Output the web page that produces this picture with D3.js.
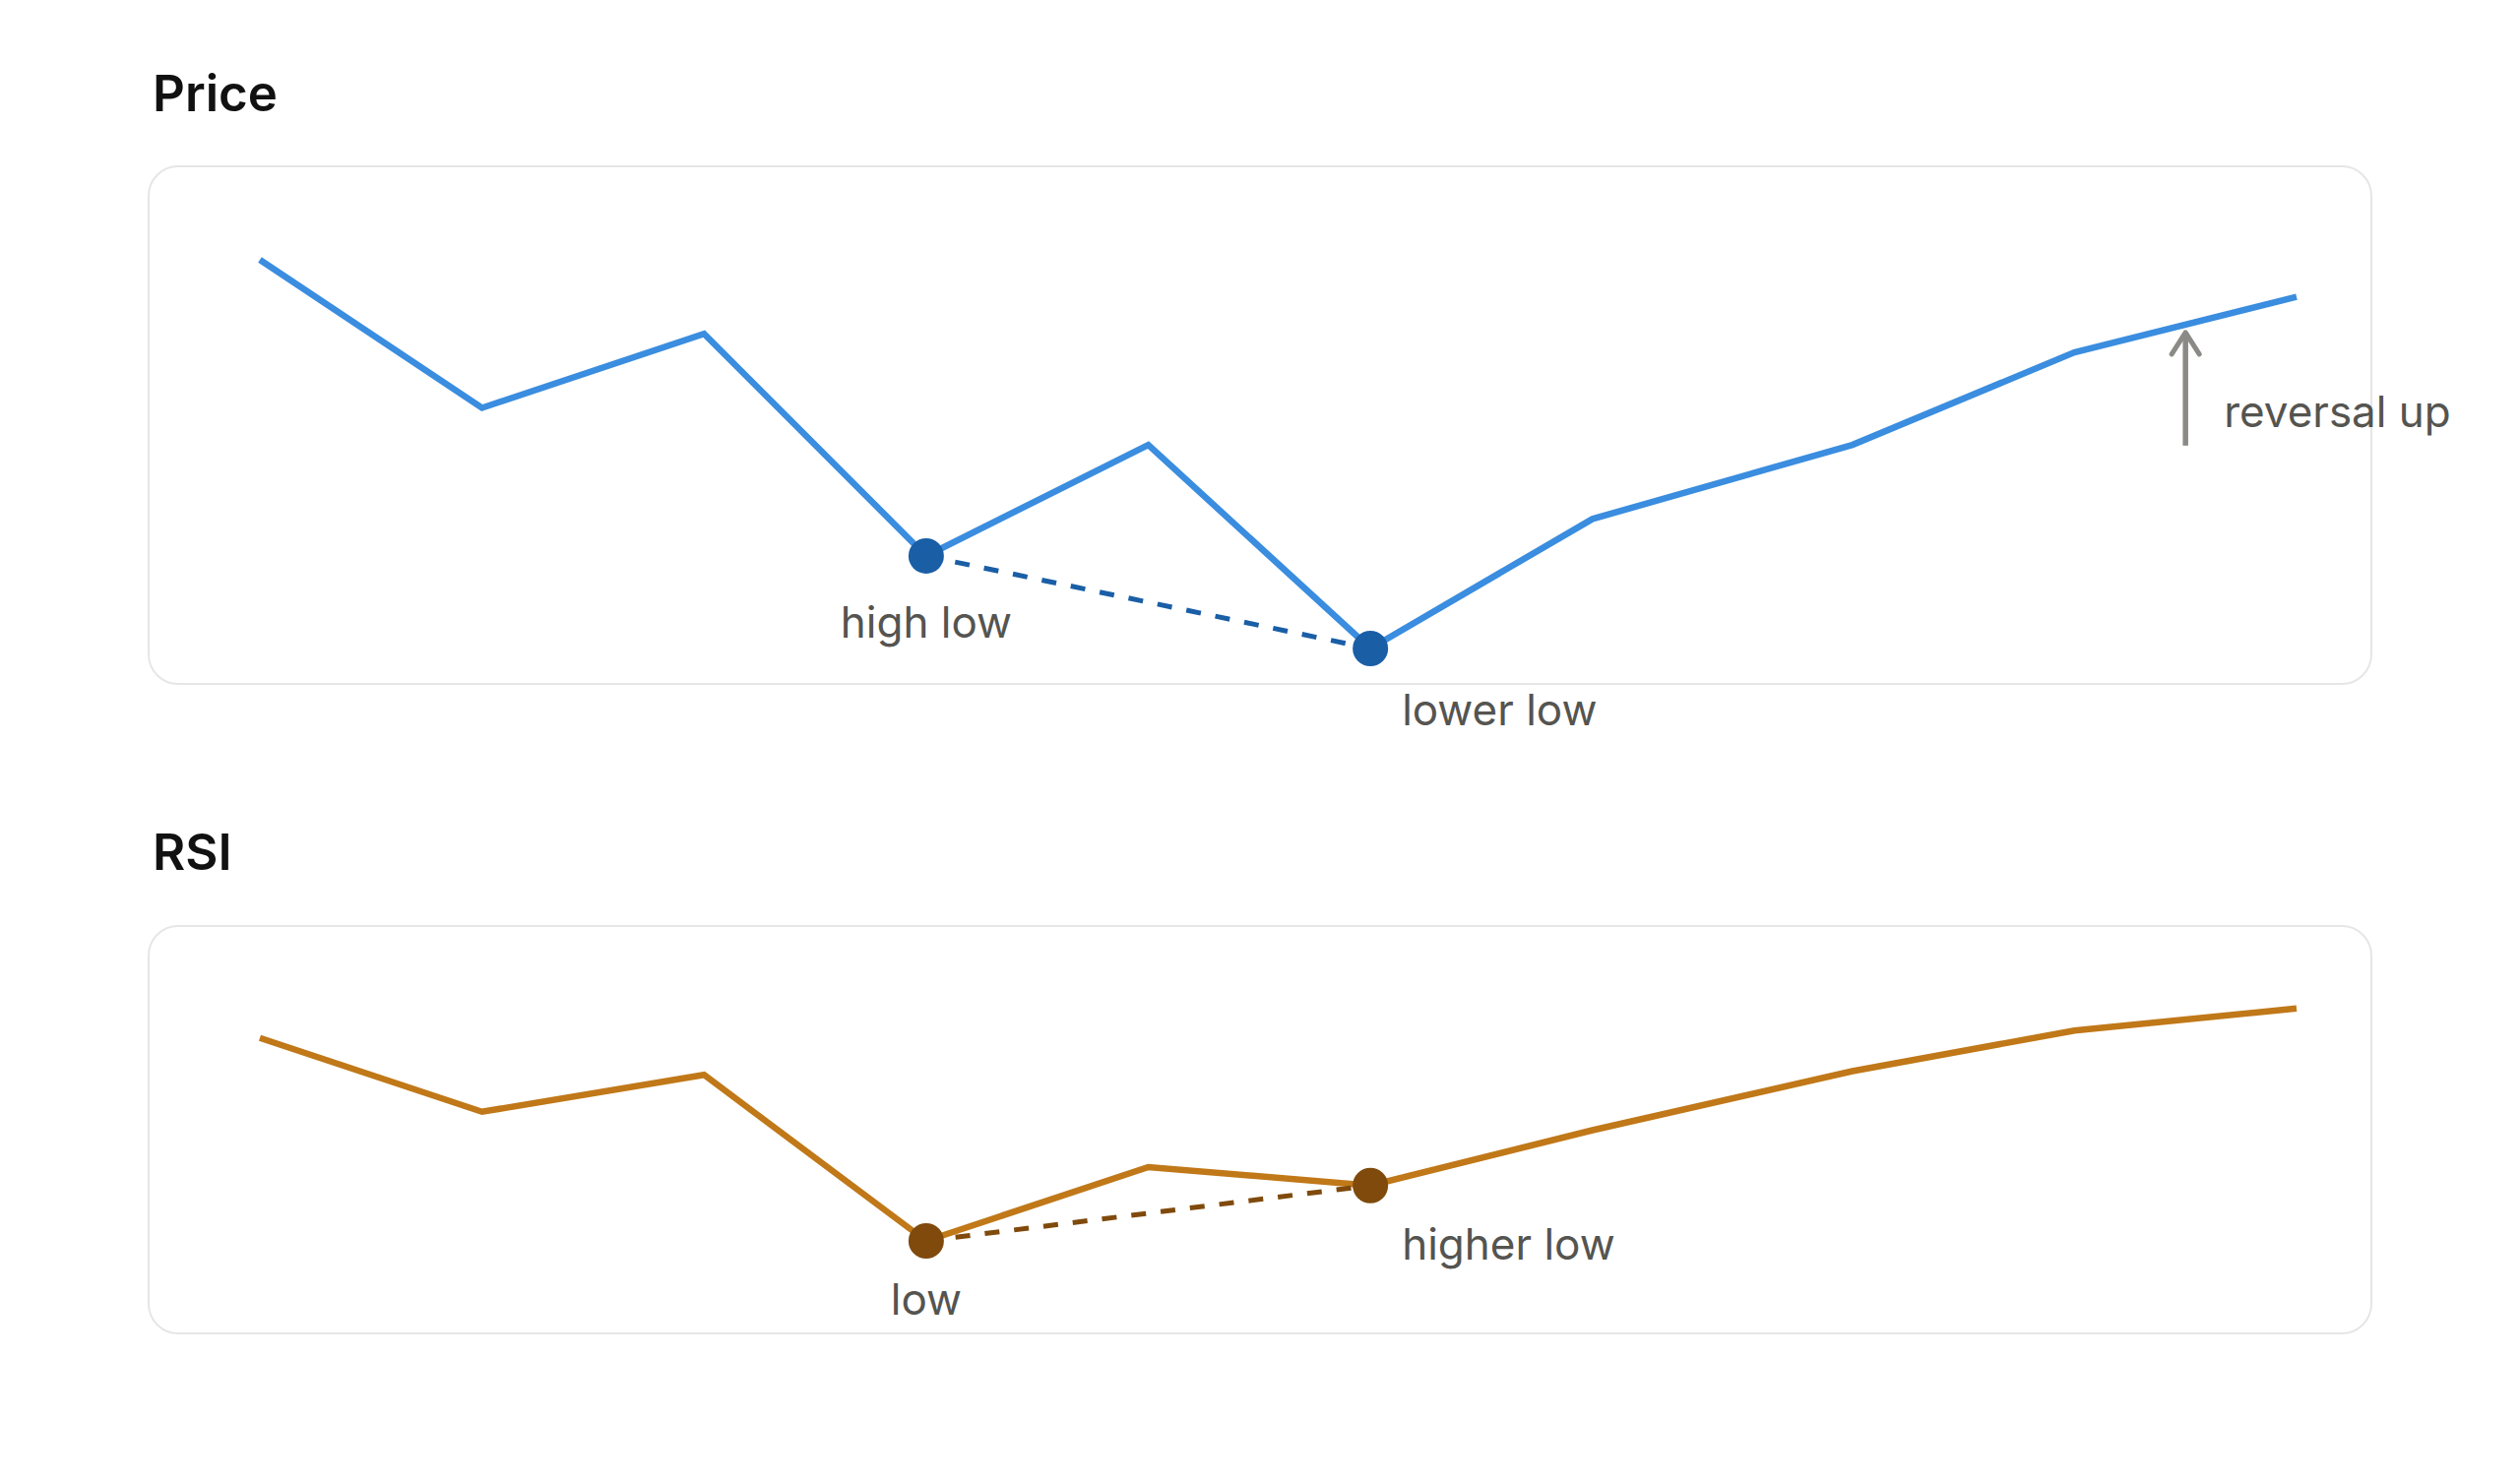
<!DOCTYPE html>
<html lang="en">
<head>
  <meta charset="UTF-8">
  <meta name="viewport" content="width=device-width, initial-scale=1.0">
  <title>Price / RSI divergence</title>
  <script src="https://d3js.org/d3.v7.min.js"></script>
  <style>
    body { margin: 0; background: #fff; }
    text { font-family: Inter, "Noto Sans", sans-serif; }
  </style>
</head>
<body>
  <div class="chart"></div>
  <script>
    // data (x steps are not evenly spaced after step 6)
    const steps = [0, 1, 2, 3, 4, 5, 6, 7.17, 8.17, 9.17];
    const price = [100, 92, 96, 84, 90, 79, 86, 90, 95, 98];
    const rsi = [57.5, 47.5, 52.5, 30, 40, 37.5, 45, 53, 58.5, 61.5];

    const priceMarks = [{ i: 3, label: 'high low' }, { i: 5, label: 'lower low' }];
    const rsiMarks = [{ i: 3, label: 'low' }, { i: 5, label: 'higher low' }];
    const reversal = { from: 8, to: 9, label: 'reversal up' };

    const W = 2560, H = 1506;
    const svg = d3.select('.chart').append('svg')
      .attr('width', W).attr('height', H);

    const x = d3.scaleLinear().domain([0, 9.17]).range([264, 2333]);

    const panels = [
      {
        title: 'Price', values: price, marks: priceMarks,
        top: 169, height: 526, titleY: 113,
        domain: [79, 100], range: [490, 95],
        line: '#3a8ddf', dot: '#1a5ea6', labelDy: [83, 78]
      },
      {
        title: 'RSI', values: rsi, marks: rsiMarks,
        top: 941, height: 414, titleY: 884,
        domain: [30, 60], range: [320, 95],
        line: '#c07818', dot: '#7f4a0c', labelDy: [75, 75]
      }
    ];

    panels.forEach((p, k) => {
      svg.append('text')
        .attr('x', 155).attr('y', p.titleY)
        .style('font-size', '51px').style('font-weight', 600)
        .style('fill', '#111')
        .text(p.title);

      const g = svg.append('g').attr('transform', `translate(0,${p.top})`);

      g.append('rect')
        .attr('x', 151).attr('y', 0)
        .attr('width', 2258).attr('height', p.height)
        .attr('rx', 30)
        .style('fill', '#fff').style('stroke', '#e6e6e6').style('stroke-width', 2);

      const y = d3.scaleLinear().domain(p.domain).range(p.range);
      const pts = steps.map((s, i) => [x(s), y(p.values[i])]);

      g.append('path')
        .attr('d', d3.line()(pts))
        .style('fill', 'none').style('stroke', p.line).style('stroke-width', 6.5);

      // dashed divergence segment between the two lows
      const a = pts[p.marks[0].i], b = pts[p.marks[1].i];
      g.append('line')
        .attr('x1', a[0]).attr('y1', a[1]).attr('x2', b[0]).attr('y2', b[1])
        .style('stroke', p.dot).style('stroke-width', 5)
        .style('stroke-dasharray', '15 15');

      g.selectAll('circle')
        .data(p.marks)
        .enter()
        .append('circle')
        .attr('cx', d => pts[d.i][0])
        .attr('cy', d => pts[d.i][1])
        .attr('r', 18)
        .style('fill', p.dot);

      g.selectAll('text.mark')
        .data(p.marks)
        .enter()
        .append('text')
        .attr('class', 'mark')
        .attr('x', (d, j) => pts[d.i][0] + (j === 0 ? 0 : 32))
        .attr('y', (d, j) => pts[d.i][1] + p.labelDy[j])
        .attr('text-anchor', (d, j) => j === 0 ? 'middle' : 'start')
        .style('font-size', '44px').style('fill', '#555450')
        .text(d => d.label);

      if (k === 0) {
        // arrow half way along the last price segment
        const s = (steps[reversal.from] + steps[reversal.to]) / 2;
        const v = (price[reversal.from] + price[reversal.to]) / 2;
        const ax = x(s), tip = y(v) + 8, tail = tip + 115;
        const grey = '#8b8a86';

        g.append('line')
          .attr('x1', ax).attr('y1', tail).attr('x2', ax).attr('y2', tip + 1)
          .style('stroke', grey).style('stroke-width', 5.5);
        g.append('path')
          .attr('d', d3.line()([[ax - 14, tip + 22], [ax, tip], [ax + 14, tip + 22]]))
          .style('fill', 'none').style('stroke', grey).style('stroke-width', 5)
          .style('stroke-linecap', 'round').style('stroke-linejoin', 'round');

        g.append('text')
          .attr('x', ax + 39).attr('y', tail - 19)
          .style('font-size', '44px').style('fill', '#555450')
          .text(reversal.label);
      }
    });
  </script>
</body>
</html>
